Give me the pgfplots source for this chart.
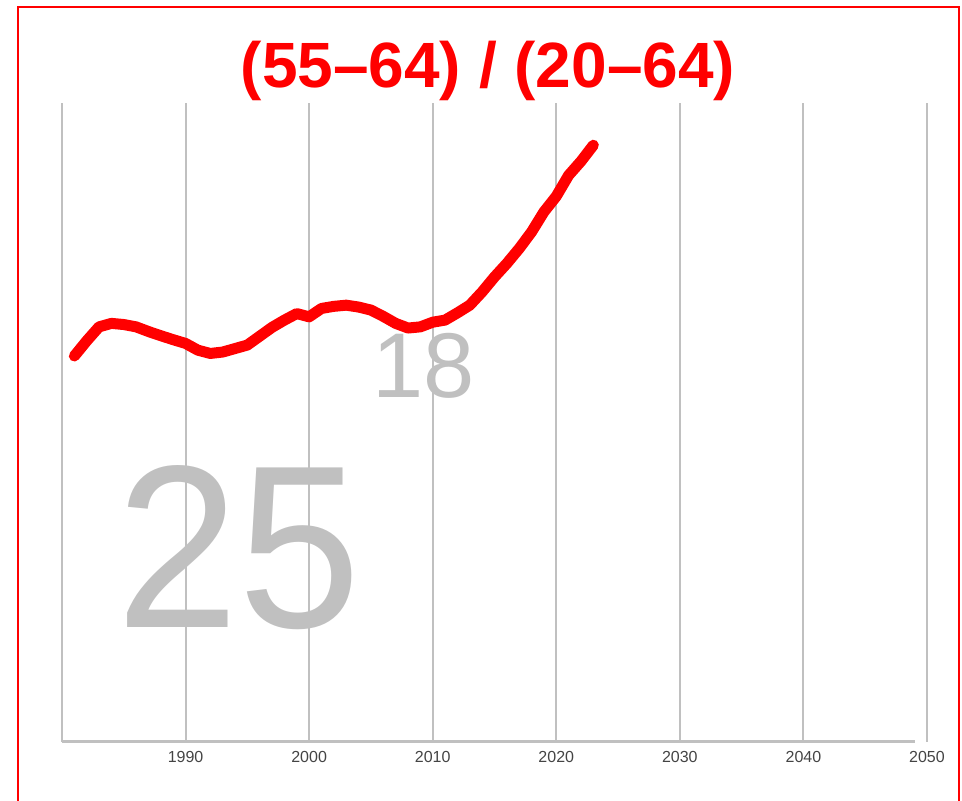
\documentclass[border=0pt]{standalone}
\usepackage{pgfplots}
\pgfplotsset{compat=1.18}
\usepackage{fontspec}
\setmainfont{Liberation Sans}
\definecolor{gridgray}{HTML}{C0C0C0}
\definecolor{ticktext}{HTML}{444444}
\definecolor{bigred}{HTML}{FF0000}
\pgfplotstableread{
year val
1981 16.55
1982 17.20
1983 17.80
1984 17.95
1985 17.90
1986 17.80
1987 17.60
1988 17.42
1989 17.25
1990 17.09
1991 16.80
1992 16.66
1993 16.72
1994 16.87
1995 17.02
1996 17.40
1997 17.78
1998 18.09
1999 18.37
2000 18.23
2001 18.59
2002 18.68
2003 18.73
2004 18.65
2005 18.52
2006 18.25
2007 17.95
2008 17.75
2009 17.80
2010 18.00
2011 18.09
2012 18.40
2013 18.73
2014 19.30
2015 19.94
2016 20.52
2017 21.16
2018 21.87
2019 22.73
2020 23.40
2021 24.30
2022 24.90
2023 25.59
}\ratio
\begin{document}
\begin{tikzpicture}[x=1pt,y=1pt]
\useasboundingbox (0,0) rectangle (481,400.5);
\draw[bigred, line width=1pt] (9,-10) -- (9,397) -- (479.5,397) -- (479.5,-10);
\node[anchor=base, text=bigred, font=\fontsize{32}{36}\selectfont\bfseries] at (244,356.5) {(55–64) / (20–64)};
% large grey figures, drawn first so that the grid lies over them
\node[anchor=base, text=gridgray, font=\fontsize{116}{120}\selectfont, xscale=0.95] at (119.4,86.6) {25};
\node[anchor=base, text=gridgray, font=\fontsize{46}{50}\selectfont] at (212.0,201.9) {18};
\begin{axis}[
  at={(31pt,29.5pt)}, anchor=origin,
  scale only axis, width=432.5pt, height=319.5pt,
  xmin=1980, xmax=2050, ymin=0, ymax=27.4,
  axis line style={draw=none},
  tick style={draw=none},
  xtick={1980,1990,...,2050},
  xticklabels={,1990,2000,2010,2020,2030,2040,2050},
  ytick=\empty,
  xmajorgrids,
  grid style={gridgray, line width=1pt},
  xticklabel style={font=\fontsize{8}{9.6}\selectfont, text=ticktext, yshift=-1pt},
  /pgf/number format/assume math mode=true,
  clip=false,
]
\draw[gridgray, line width=1.5pt] (axis cs:1980,0) -- (axis cs:2049,0);
\addplot[bigred, line width=5.5pt, line cap=round, line join=round, mark=none] table[x=year, y=val] {\ratio};
\end{axis}
\end{tikzpicture}
\end{document}
